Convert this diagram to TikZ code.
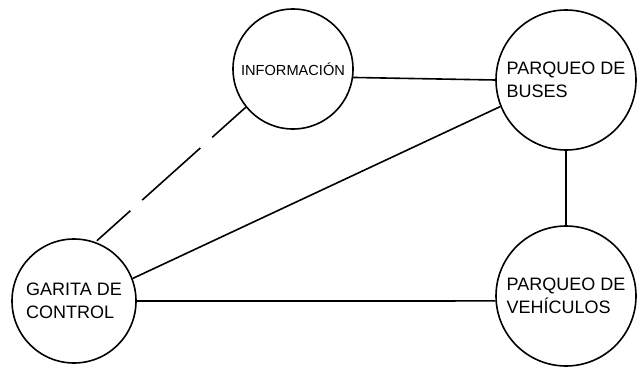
\documentclass[tikz,border=0pt]{standalone}
\usepackage{fontspec}
\setmainfont{Liberation Sans}
\usepackage{tikz}

\begin{document}
\begin{tikzpicture}[
  x=1pt,y=-1pt,
  every node/.style={align=left},
  zona/.style={draw=black,circle,line width=1.6pt,inner sep=0pt,font=\fontsize{18}{23}\selectfont},
  enlace/.style={draw=black,line width=1.6pt},
  vago/.style={enlace,dash pattern=on 45pt off 16pt on 78pt off 16pt},
]
\useasboundingbox (0,0) rectangle (637,367);

\node[zona,minimum size=120pt,font=\fontsize{14.6}{17}\selectfont] (info) at (293,69) {\raisebox{-2pt}{INFORMACIÓN}};
\node[zona,minimum size=140pt] (buses) at (566,80) {PARQUEO DE\\BUSES};
\node[zona,minimum size=124pt] (garita) at (74,301) {GARITA DE\\CONTROL};
\node[zona,minimum size=140pt] (vehiculos) at (566,296) {PARQUEO DE\\VEHÍCULOS};

\draw[enlace] (info.-8) -- (buses.180);
\draw[enlace] (buses.south) -- (vehiculos.north);
\draw[enlace] (garita.east) -- (vehiculos.184);
\draw[enlace] (garita.21) -- (buses.202);
\draw[vago] (info.219) -- (garita.70);
\end{tikzpicture}
\end{document}
